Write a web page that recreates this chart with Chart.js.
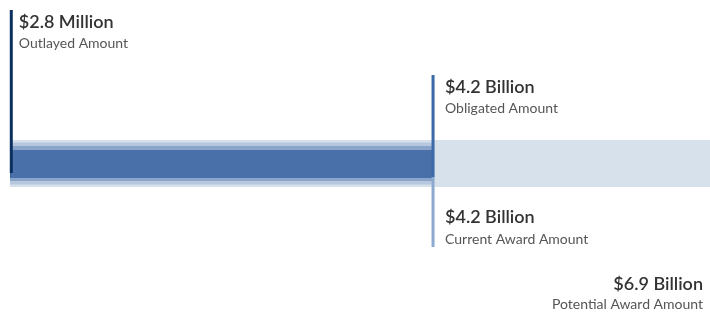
<!DOCTYPE html>
<html><head><meta charset="utf-8">
<script src="https://cdn.jsdelivr.net/npm/chart.js@4/dist/chart.umd.min.js"></script>
<style>html,body{margin:0;padding:0;background:#fff;}#wrap{width:710px;height:316px;}</style>
</head><body><div id="wrap"><canvas id="c" width="710" height="316"></canvas></div>
<script>
const categories = ['Award'];
const seriesNames = ['Outlayed Amount', 'Obligated Amount', 'Current Award Amount', 'Potential Award Amount'];
const seriesValues = [2.8e6, 4.17e9, 4.17e9, 6.9e9];
const valueLabels = ['$2.8 Million', '$4.2 Billion', '$4.2 Billion', '$6.9 Billion'];
const xMax = 6.9e9;

const FONT = 'Lato, "Open Sans", sans-serif';

const labelPlugin = {
  id: 'awardLabels',
  afterDatasetsDraw(chart) {
    const ctx = chart.ctx, xs = chart.scales.x;
    const px = i => xs.getPixelForValue(seriesValues[i]);
    ctx.save();
    // vertical marker lines
    const line = (x, y0, y1, color) => { ctx.fillStyle = color; ctx.fillRect(x, y0, 3, y1 - y0); };
    line(px(0) - 0.5, 10, 173, '#0b2f5f');
    line(px(1) - 1.5, 75, 177, '#3c6aa8');
    line(px(2) - 1.5, 177, 247, '#8ea9cf');
    // texts
    const txt = (s, x, y, bold, align) => {
      ctx.font = (bold ? '600 18px ' : '400 14px ') + FONT;
      ctx.fillStyle = bold ? '#333333' : '#555555';
      ctx.textAlign = align; ctx.textBaseline = 'alphabetic';
      ctx.fillText(s, x, y);
    };
    txt(valueLabels[0], px(0) + 8.5, 28, true, 'left');
    txt(seriesNames[0], px(0) + 8.5, 48, false, 'left');
    txt(valueLabels[1], px(1) + 12, 93, true, 'left');
    txt(seriesNames[1], px(1) + 12, 113, false, 'left');
    txt(valueLabels[2], px(2) + 12, 223, true, 'left');
    txt(seriesNames[2], px(2) + 12, 244, false, 'left');
    txt(valueLabels[3], 703, 290, true, 'right');
    txt(seriesNames[3], 703, 309, false, 'right');
    ctx.restore();
  }
};

new Chart(document.getElementById('c'), {
  type: 'bar',
  data: {
    labels: categories,
    datasets: [
      { label: seriesNames[0], data: [seriesValues[0]], backgroundColor: '#0b2f5f', barPercentage: 0.6, order: 0 },
      { label: seriesNames[1], data: [seriesValues[1]], backgroundColor: '#4a70aa', borderColor: '#8aa4ca',
        borderWidth: { top: 4, bottom: 3, left: 0, right: 0 }, borderSkipped: false, barPercentage: 35/47, order: 1 },
      { label: seriesNames[2], data: [seriesValues[2]], backgroundColor: '#b6c7de', barPercentage: 42/47, order: 2 },
      { label: seriesNames[3], data: [seriesValues[3]], backgroundColor: '#d7e1ec', barPercentage: 1, order: 3 }
    ]
  },
  options: {
    indexAxis: 'y',
    responsive: false,
    animation: false,
    devicePixelRatio: 1,
    layout: { padding: { left: 10, right: 0, top: 140, bottom: 129 } },
    datasets: { bar: { grouped: false, categoryPercentage: 1 } },
    scales: {
      x: { display: false, min: 0, max: xMax },
      y: { display: false }
    },
    plugins: { legend: { display: false }, tooltip: { enabled: false } }
  },
  plugins: [labelPlugin]
});
</script></body></html>
